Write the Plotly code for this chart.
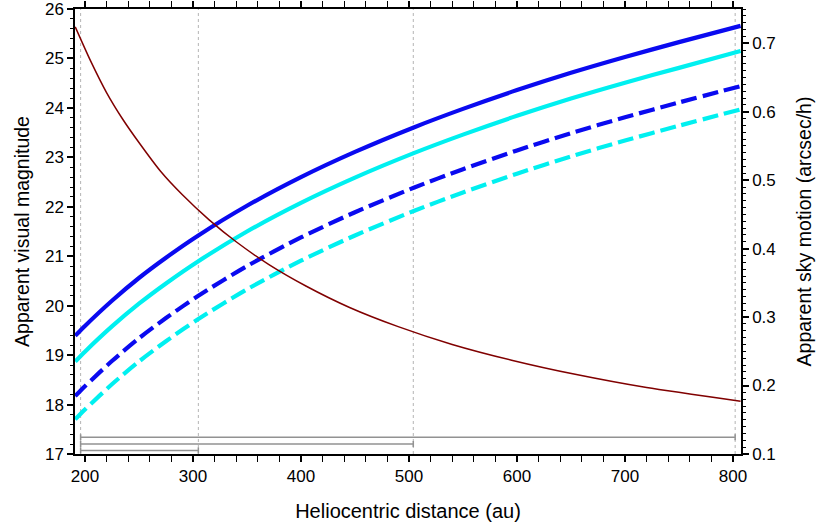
import plotly.graph_objects as go

# Heliocentric distance grid (au) for the magnitude curves
distance = [191, 200, 225, 250, 275, 305, 350, 400, 450, 505, 550, 600, 650, 700, 750, 807]

# Apparent visual magnitude for the four object cases
mag_blue_solid = [19.39, 19.59, 20.10, 20.56, 20.97, 21.42, 22.02, 22.60, 23.11, 23.61,
                  23.98, 24.36, 24.71, 25.03, 25.33, 25.66]
mag_cyan_solid = [18.87, 19.07, 19.58, 20.04, 20.45, 20.90, 21.50, 22.08, 22.59, 23.09,
                  23.46, 23.84, 24.19, 24.51, 24.81, 25.15]
mag_blue_dash = [18.17, 18.37, 18.88, 19.34, 19.75, 20.20, 20.80, 21.38, 21.89, 22.39,
                 22.76, 23.14, 23.49, 23.81, 24.11, 24.44]
mag_cyan_dash = [17.70, 17.90, 18.41, 18.87, 19.28, 19.73, 20.33, 20.91, 21.42, 21.92,
                 22.29, 22.67, 23.02, 23.34, 23.64, 23.97]

# Apparent sky motion (arcsec/h) and its distance grid (au)
motion_distance = [191, 205, 220, 235, 250, 270, 290, 315, 340, 370, 405, 445, 490,
                   540, 595, 655, 720, 807]
motion = [0.724, 0.675, 0.628, 0.589, 0.555, 0.513, 0.479, 0.442, 0.410, 0.377, 0.345,
          0.314, 0.286, 0.260, 0.237, 0.216, 0.197, 0.177]

# Reference distances (dotted verticals) and distance ranges (bars)
marker_distances = [196, 305, 504, 802]
range_start = 196
range_ends = [802, 504, 305]
range_levels = [17.34, 17.20, 17.07]

FONT = "Arial, Liberation Sans, sans-serif"

fig = go.Figure()

for d in marker_distances:
    fig.add_vline(x=d, line=dict(color="#b4b4b4", width=1, dash="dot"), layer="below")

mag_series = [
    (mag_blue_solid, "#0a0af0", "solid"),
    (mag_cyan_solid, "#00f0f0", "solid"),
    (mag_blue_dash, "#0a0af0", "16px,6px"),
    (mag_cyan_dash, "#00f0f0", "16px,6px"),
]
for vals, col, dash in mag_series:
    fig.add_trace(go.Scatter(
        x=distance, y=vals, mode="lines",
        line=dict(color=col, width=4.2, dash=dash, shape="spline", smoothing=0.8),
        hoverinfo="skip",
    ))

for end, lvl in zip(range_ends, range_levels):
    fig.add_trace(go.Scatter(
        x=[range_start], y=[lvl], mode="markers",
        marker=dict(size=1, color="rgba(0,0,0,0)"),
        error_x=dict(type="data", symmetric=False, array=[end - range_start], arrayminus=[0],
                     color="#929292", thickness=1.5, width=3),
        hoverinfo="skip",
    ))

fig.add_trace(go.Scatter(
    x=motion_distance, y=motion, mode="lines", yaxis="y2",
    line=dict(color="#800000", width=1.5, shape="spline", smoothing=0.6),
    hoverinfo="skip",
))

axis_common = dict(
    showline=True, linecolor="black", linewidth=1.5,
    ticks="outside", ticklen=6, tickwidth=1.5, tickcolor="black",
    showgrid=False, zeroline=False, automargin=False,
    ticklabeloverflow="allow",
    tickfont=dict(family=FONT, size=17, color="black"),
)

fig.update_layout(
    template="none",
    width=820, height=528,
    margin=dict(l=75, r=79, t=9, b=74),
    plot_bgcolor="white", paper_bgcolor="white",
    showlegend=False,
    font=dict(family=FONT, size=17, color="black"),
    xaxis=dict(
        range=[190.8, 807.4], tick0=0, dtick=100, mirror="allticks",
        minor=dict(dtick=20, ticks="outside", ticklen=3, tickwidth=1.2, tickcolor="black"),
        title=dict(text="Heliocentric distance (au)", font=dict(family=FONT, size=20), standoff=19),
        **axis_common,
    ),
    yaxis=dict(
        range=[17, 26.0005], tick0=0, dtick=1,
        minor=dict(dtick=0.2, ticks="outside", ticklen=3, tickwidth=1.2, tickcolor="black"),
        title=dict(text="Apparent visual magnitude", font=dict(family=FONT, size=19.5), standoff=10),
        **axis_common,
    ),
    yaxis2=dict(
        range=[0.1, 0.75], tick0=0.1, dtick=0.1, overlaying="y", side="right",
        minor=dict(dtick=0.01, ticks="outside", ticklen=3, tickwidth=1.2, tickcolor="black"),
        title=dict(text="Apparent sky motion (arcsec/h)", font=dict(family=FONT, size=19.5), standoff=23),
        **axis_common,
    ),
)

fig.write_html("out.html")
